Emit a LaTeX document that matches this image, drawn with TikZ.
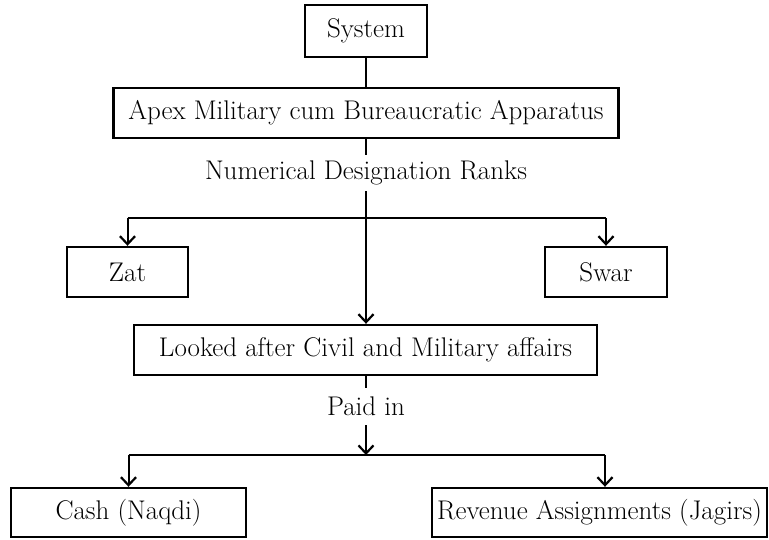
\documentclass[tikz,border=0pt]{standalone}
\usetikzlibrary{arrows.meta}
\begin{document}
\begin{tikzpicture}[x=1pt,y=-1pt,
  box/.style={draw,line width=2.4pt,inner sep=0pt,anchor=center,font=\fontsize{27}{32}\selectfont},
  lbl/.style={inner sep=0pt,minimum height=36pt,anchor=center,font=\fontsize{27}{32}\selectfont},
  conn/.style={line width=2pt},
  arr/.style={line width=2pt,-{Straight Barb[length=8pt,width=15pt,line width=2.2pt]}}]
\useasboundingbox (0,0) rectangle (769,539);
\node[box,minimum width=122pt,minimum height=52pt] (sys) at (366,31) {System};
\node[box,minimum width=505pt,minimum height=50pt] (apex) at (366,113) {Apex Military cum Bureaucratic Apparatus};
\node[lbl] (num) at (366,173) {Numerical Designation Ranks};
\coordinate (b1) at (366,218);
\coordinate (b1l) at (127.5,218);
\coordinate (b1r) at (606,218);
\node[box,minimum width=121pt,minimum height=50pt] (zat) at (127.5,272) {Zat};
\node[box,minimum width=122pt,minimum height=50pt] (swar) at (606,272) {Swar};
\node[box,minimum width=463pt,minimum height=50pt] (look) at (365.5,350) {Looked after Civil and Military affairs};
\node[lbl,minimum height=37pt] (paid) at (366,406.5) {Paid in};
\coordinate (b2) at (366,455);
\coordinate (b2l) at (128.5,455);
\coordinate (b2r) at (605,455);
\node[box,minimum width=235pt,minimum height=49pt] (cash) at (128.5,512.5) {Cash (Naqdi)};
\node[box,minimum width=335pt,minimum height=49pt] (rev) at (599.5,512.5) {Revenue Assignments (Jagirs)};
\draw[conn] (sys.south) -- (sys.south|-apex.north);
\draw[conn] (apex.south) -- (num.north);
\draw[conn] (num.south) -- (b1);
\draw[conn] (b1l) -- (b1r);
\draw[arr] (b1l) -- (zat.north-|b1l);
\draw[arr] (b1r) -- (swar.north-|b1r);
\draw[arr] (b1) -- (look.north-|b1);
\draw[conn] (look.south-|paid) -- (paid.north);
\draw[arr] (paid.south) -- (b2);
\draw[conn] (b2l) -- (b2r);
\draw[arr] (b2l) -- (cash.north-|b2l);
\draw[arr] (b2r) -- (rev.north-|b2r);
\end{tikzpicture}
\end{document}
